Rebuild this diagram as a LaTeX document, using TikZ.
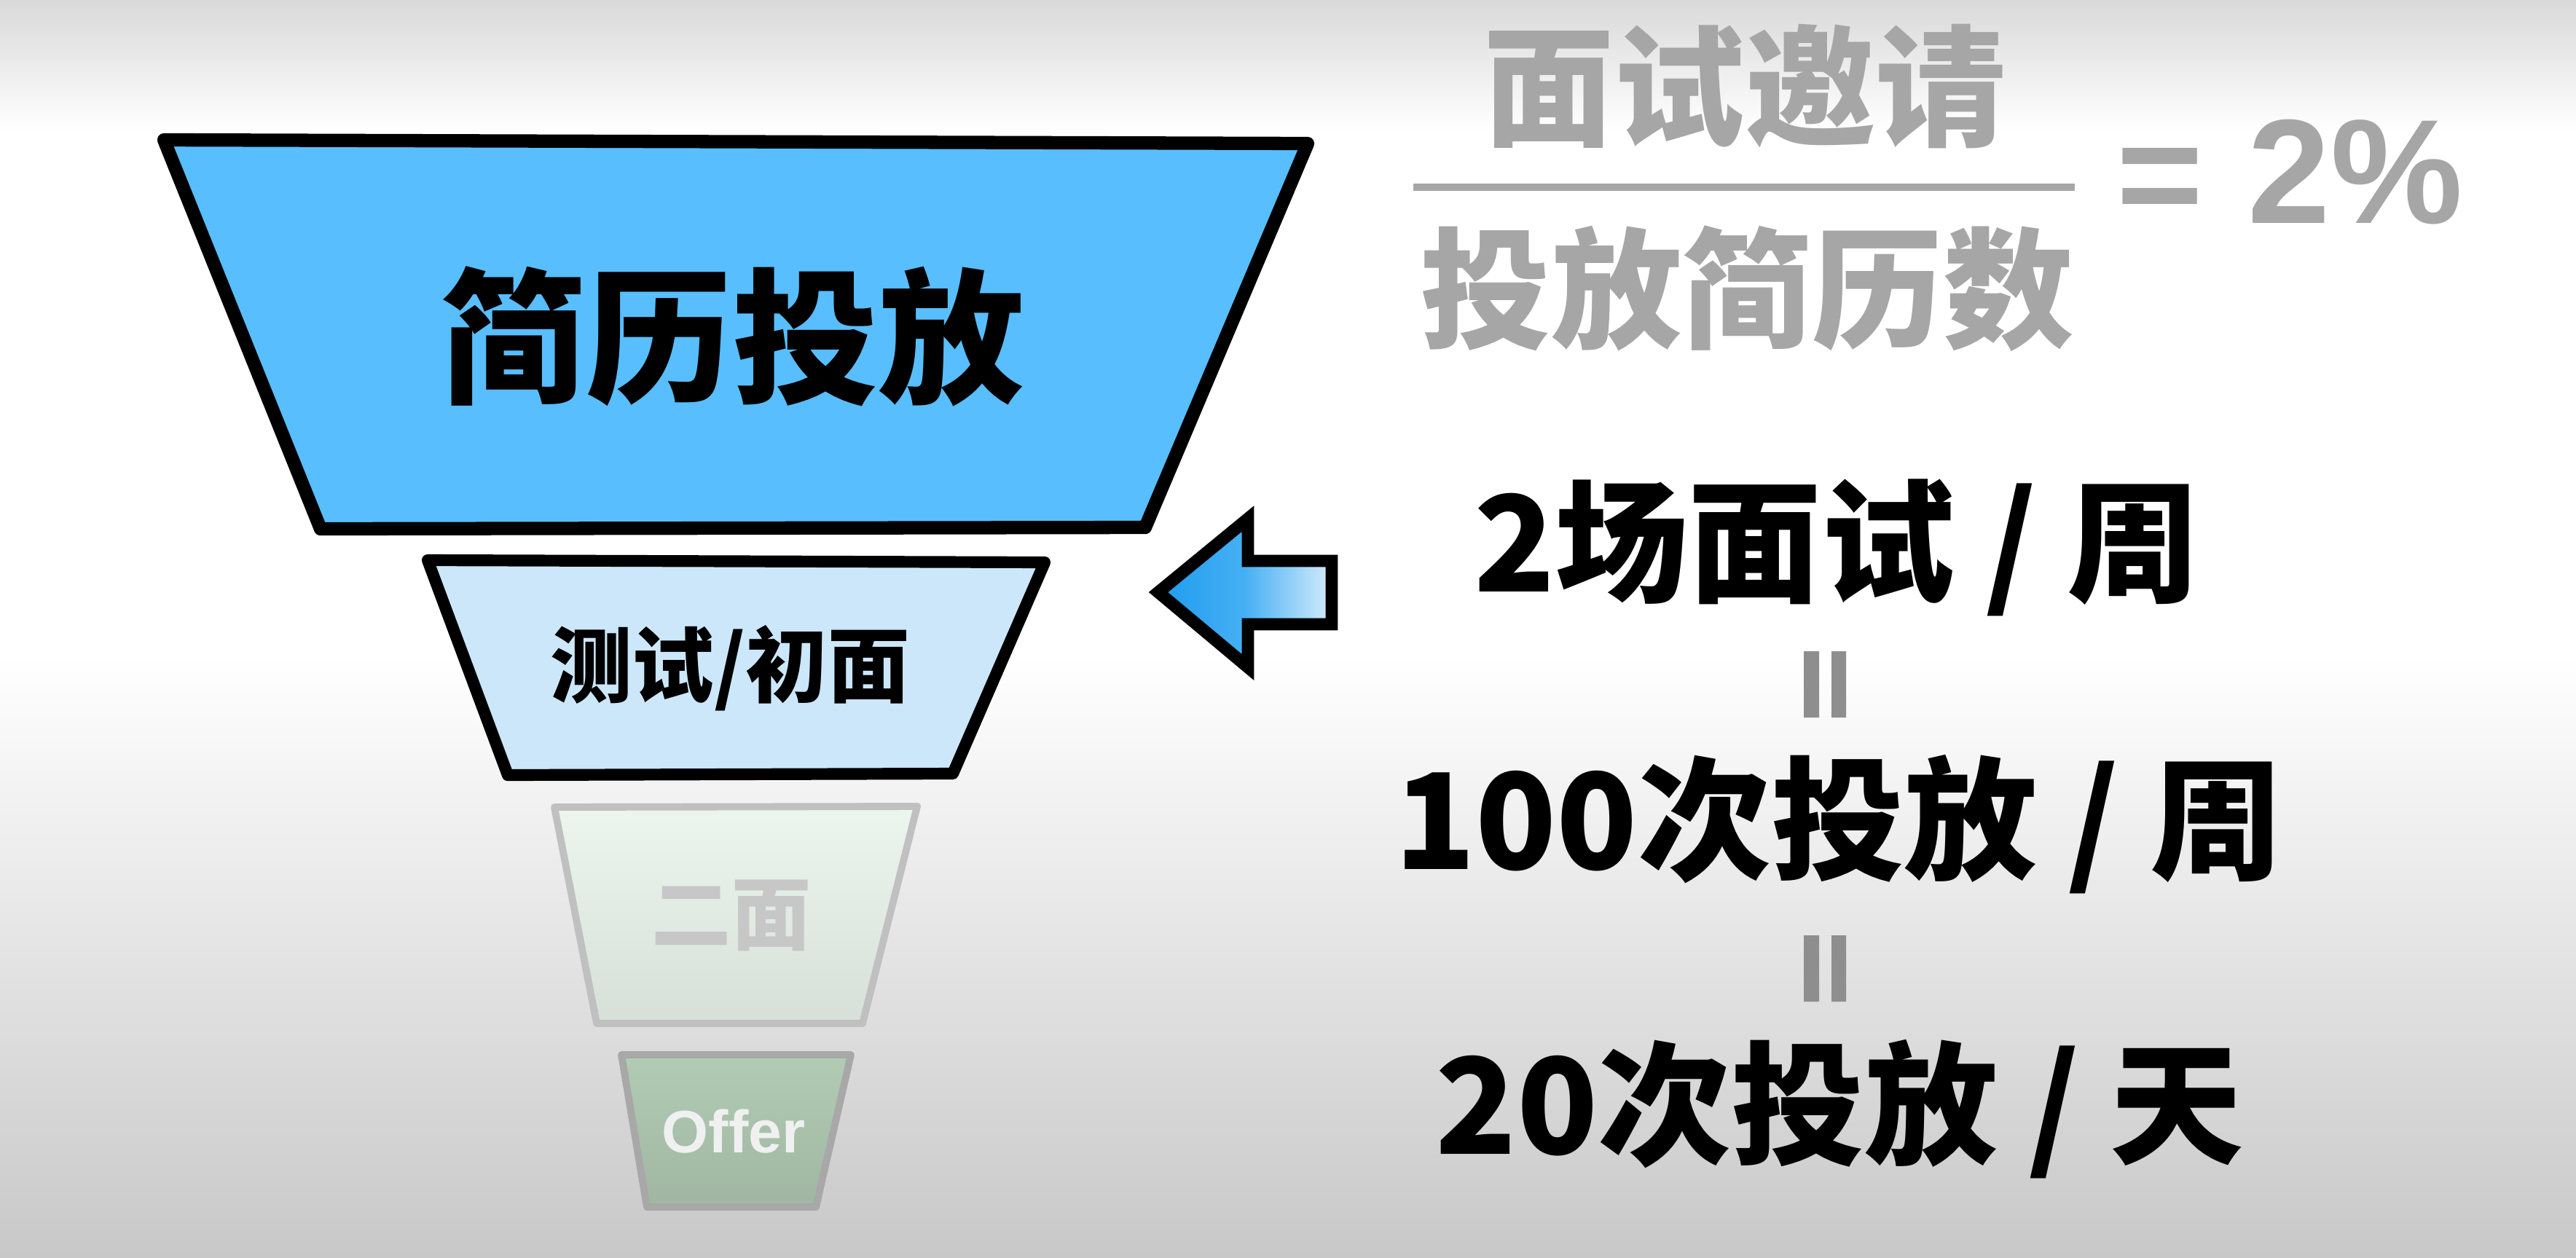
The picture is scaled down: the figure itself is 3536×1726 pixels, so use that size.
\documentclass[tikz,border=0pt]{standalone}
\usepackage{fontspec}
\newfontfamily\cjk{Noto Sans CJK SC}
\newfontfamily\lsans{Liberation Sans}
\definecolor{topblue}{RGB}{88,190,253}
\definecolor{midblue}{RGB}{204,231,250}
\definecolor{ghostA}{RGB}{236,245,238}
\definecolor{ghostB}{RGB}{214,224,216}
\definecolor{offA}{RGB}{178,204,180}
\definecolor{offB}{RGB}{160,182,162}
\definecolor{ghostline}{RGB}{192,192,192}
\definecolor{offline}{RGB}{168,168,168}
\definecolor{fracgray}{RGB}{166,166,166}
\definecolor{bargray}{RGB}{142,142,142}
\definecolor{arrowL}{RGB}{30,156,238}
\definecolor{arrowM}{RGB}{70,176,244}
\definecolor{arrowR}{RGB}{214,236,251}
\definecolor{bgtop}{RGB}{217,217,217}
\definecolor{bgbot}{RGB}{200,200,200}
\begin{document}
\begin{tikzpicture}[x=0.01cm,y=-0.01cm,
  lbl/.style={inner sep=0pt, anchor=center},
  inkfunnel/.style={draw=black, line width=5.2pt, line join=round},
  ghostfunnel/.style={draw=ghostline, line width=2.8pt, line join=round},
  offfunnel/.style={draw=offline, line width=2.8pt, line join=round},
  bigtxt/.style={lbl, font=\cjk\bfseries\fontsize{57pt}{60pt}\selectfont},
  midtxt/.style={lbl, font=\cjk\bfseries\fontsize{32pt}{36pt}\selectfont},
  ghosttxt/.style={lbl, text=black!22, font=\cjk\bfseries\fontsize{31pt}{34pt}\selectfont},
  offtxt/.style={lbl, text=white!88!gray, font=\lsans\bfseries\fontsize{23.4pt}{26pt}\selectfont},
  fractxt/.style={lbl, text=fracgray, font=\cjk\bfseries\fontsize{51pt}{54pt}\selectfont},
  pcttxt/.style={lbl, text=fracgray, font=\lsans\bfseries\fontsize{58pt}{60pt}\selectfont},
  ratetxt/.style={lbl, text=black, font=\cjk\bfseries\fontsize{52pt}{55pt}\selectfont}
]
\useasboundingbox (0,0) rectangle (3536,1726);
% background
\fill[white] (0,0) rectangle (3536,1726);
\shade[top color=bgtop, bottom color=white] (0,0) rectangle (3536,180);
\shade[top color=white, bottom color=bgbot] (0,900) rectangle (3536,1726);

% funnel levels
\path[inkfunnel, fill=topblue] (225,192) -- (1795,197) -- (1572,724) -- (440,726) -- cycle;
\node[bigtxt] (resume) at (1005,462) {简历投放};

\path[inkfunnel, line width=4.6pt, fill=midblue] (587,769) -- (1434,772) -- (1308,1062) -- (697,1064) -- cycle;
\node[midtxt] (test) at (1002,917) {测试/初面};

\shade[top color=ghostA, bottom color=ghostB] (761,1108) -- (1259,1107) -- (1184,1405) -- (819,1405) -- cycle;
\path[ghostfunnel] (761,1108) -- (1259,1107) -- (1184,1405) -- (819,1405) -- cycle;
\node[ghosttxt] (second) at (1004,1257) {二面};

\shade[top color=offA, bottom color=offB] (853,1448) -- (1168,1448) -- (1120,1657) -- (888,1657) -- cycle;
\path[offfunnel] (853,1448) -- (1168,1448) -- (1120,1657) -- (888,1657) -- cycle;
\node[offtxt] (offer) at (1007,1553) {Offer};

% pointer arrow
\shade[left color=arrowL, right color=arrowR, middle color=arrowM]
  (1590,813) -- (1713,712) -- (1713,770) -- (1828,770) -- (1828,857) -- (1713,857) -- (1713,916) -- cycle;
\draw[black, line width=4.8pt, line join=miter]
  (1590,813) -- (1713,712) -- (1713,770) -- (1828,770) -- (1828,857) -- (1713,857) -- (1713,916) -- cycle;

% fraction
\node[fractxt] (num) at (2395,119) {面试邀请};
\node[fractxt] (den) at (2398,396) {投放简历数};
\draw[fracgray, line width=2.85pt] (1940,257) -- (2848,257);
\node[pcttxt] (eq) at (2965,256) {=};
\node[pcttxt] (pct) at (3233,236) {2\%};

% rates
\node[ratetxt] (r1) at (2522,752) {2场面试 / 周};
\fill[bargray] (2476,894) rectangle (2497,985) (2514,894) rectangle (2534,985);
\node[ratetxt] (r2) at (2524,1132) {100次投放 / 周};
\fill[bargray] (2476,1284) rectangle (2497,1375) (2514,1284) rectangle (2534,1375);
\node[ratetxt] (r3) at (2525,1523) {20次投放 / 天};
\end{tikzpicture}
\end{document}
